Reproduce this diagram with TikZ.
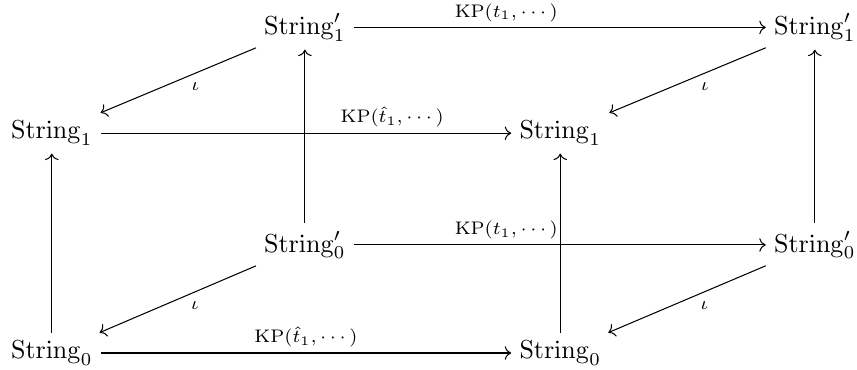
\documentclass[tikz,border=0pt]{standalone}
\usepackage{amsmath}
\usetikzlibrary{arrows.meta,positioning}

\begin{document}
\begin{tikzpicture}[
  obj/.style={inner sep=3pt},
  arrow/.style={-{To}},
  lab/.style={font=\scriptsize, auto, inner sep=2pt},
]
  \useasboundingbox (0,0) rectangle (11.58,4.99);

  % Front square
  \node[obj] (f00) at (0.70,0.22) {$\mathrm{String}_0$};
  \node[obj] (f10) at (7.57,0.22) {$\mathrm{String}_0$};
  \node[obj] (f01) at (0.70,3.19) {$\mathrm{String}_1$};
  \node[obj] (f11) at (7.57,3.19) {$\mathrm{String}_1$};

  % Back square
  \node[obj] (b00) at (4.12,1.68) {$\mathrm{String}'_0$};
  \node[obj] (b10) at (11.01,1.68) {$\mathrm{String}'_0$};
  \node[obj] (b01) at (4.12,4.62) {$\mathrm{String}'_1$};
  \node[obj] (b11) at (11.01,4.62) {$\mathrm{String}'_1$};

  % Horizontal maps
  \draw[arrow] (f00) -- (f10) node[lab, midway] {$\mathrm{KP}(\hat{t}_1,\cdots)$};
  \draw[arrow] (f01) -- (f11) node[lab, pos=0.71] {$\mathrm{KP}(\hat{t}_1,\cdots)$};
  \draw[arrow] (b00) -- (b10) node[lab, pos=0.37] {$\mathrm{KP}(t_1,\cdots)$};
  \draw[arrow] (b01) -- (b11) node[lab, pos=0.37] {$\mathrm{KP}(t_1,\cdots)$};

  % Vertical maps
  \draw[arrow] (f00) -- (f01);
  \draw[arrow] (f10) -- (f11);
  \draw[arrow] (b00) -- (b01);
  \draw[arrow] (b10) -- (b11);

  % Inclusions
  \draw[arrow] (b00) -- (f00) node[lab, pos=0.45] {$\iota$};
  \draw[arrow] (b10) -- (f10) node[lab, pos=0.45] {$\iota$};
  \draw[arrow] (b01) -- (f01) node[lab, pos=0.45] {$\iota$};
  \draw[arrow] (b11) -- (f11) node[lab, pos=0.45] {$\iota$};
\end{tikzpicture}
\end{document}
